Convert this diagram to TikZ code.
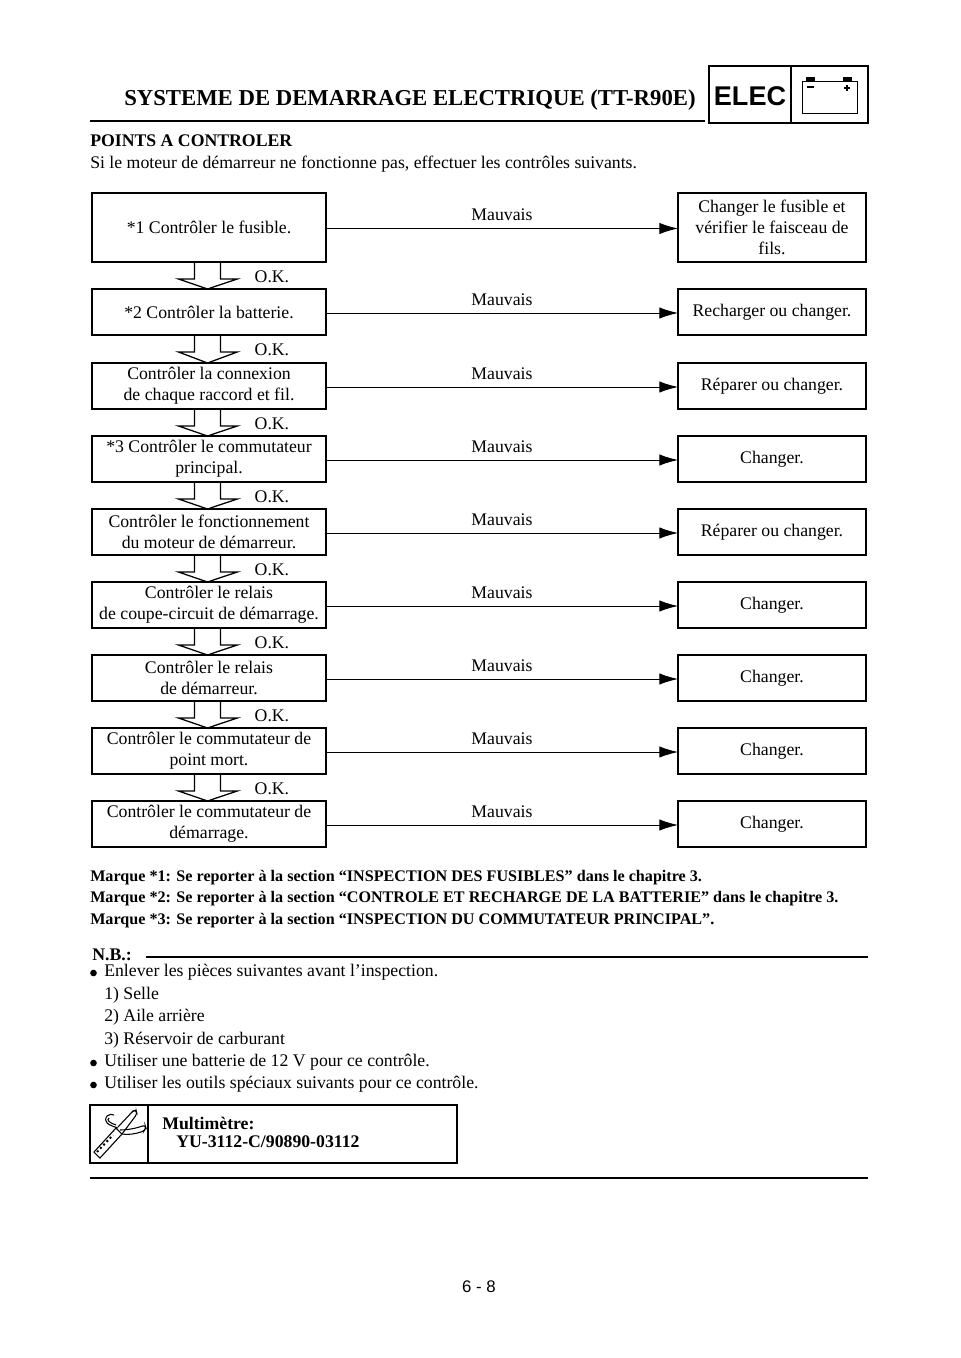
\documentclass[tikz,border=0pt]{standalone}
\usepackage{fontspec}
\setmainfont{Liberation Serif}
\newfontfamily\arialfont{Liberation Sans}
\usetikzlibrary{positioning,arrows.meta}
\tikzset{
    stepbox/.style={draw, line width=1.3pt, outer sep=0pt, inner sep=0pt, align=center, font=\fontsize{13.3}{15.75}\selectfont},
    checkbox/.style={stepbox, minimum width=175.5pt, minimum height=34.5pt},
    fixbox/.style={stepbox, minimum width=141pt, minimum height=34.5pt},
    badarrow/.style={line width=0.7pt, -{Latex[length=14pt,width=8.5pt]}},
    badlabel/.style={midway, above=5.5pt, inner sep=0pt, font=\fontsize{13.3}{15.75}\selectfont},
    okshape/.style={line width=0.95pt, line join=miter},
    oklabel/.style={inner sep=0pt, font=\fontsize{13.3}{15.75}\selectfont},
    bodytext/.style={anchor=west, inner sep=0pt, font=\fontsize{13.3}{15.75}\selectfont},
    boldtext/.style={bodytext, font=\fontsize{13.3}{15.75}\selectfont\bfseries},
    notetext/.style={bodytext, font=\fontsize{12.1}{14}\selectfont\bfseries},
    heavyline/.style={line width=1.9pt},
    dotmark/.style={circle, fill, inner sep=0pt, minimum size=5pt}
}
% hollow arrow between two check boxes, with its O.K.
\newcommand{\okarrow}[2]{
    \draw[okshape] ([xshift=-10.85pt]#1.south) -- ([xshift=-10.85pt,yshift=-12.75pt]#1.south)
        -- ([xshift=-22.9pt,yshift=-12.75pt]#1.south) -- ([xshift=-1.1pt]#2.north)
        -- ([xshift=21.2pt,yshift=-12.75pt]#1.south) -- ([xshift=8.65pt,yshift=-12.75pt]#1.south)
        -- ([xshift=8.65pt]#1.south);
    \node[oklabel] (#1ok) at ([xshift=47.2pt,yshift=-10.9pt]#1.south) {O.K.};
}
\begin{document}
\begin{tikzpicture}[x=0.75pt, y=-0.75pt, node distance=20.25pt]
    \useasboundingbox (0,0) rectangle (960,1358);
    % header
    \node[anchor=west, inner sep=0pt, font=\fontsize{17.05}{18}\selectfont\bfseries] (title) at (124,100) {SYSTEME DE DEMARRAGE ELECTRIQUE (TT-R90E)};
    \draw[heavyline] (90,121) -- (705,121);
    \draw[heavyline] (709,66) rectangle (868,123);
    \draw[heavyline] (791,66) -- (791,123);
    \node[inner sep=0pt, font=\arialfont\fontsize{20.3}{24}\selectfont\bfseries] (elec) at (750,96) {ELEC};
    \draw[line width=0.7pt] (802,81) rectangle (857,113);
    \fill (806,77) rectangle (815,81);
    \fill (843,77) rectangle (852,81);
    \draw[line width=0.9pt] (807,87) -- (814,87);
    \draw[line width=0.9pt] (844,88) -- (850,88) (847,85) -- (847,91);

    \node[boldtext] (points) at (90,141) {POINTS A CONTROLER};
    \node[bodytext] (intro) at (90,164) {Si le moteur de démarreur ne fonctionne pas, effectuer les contrôles suivants.};

    % left column
    \node[checkbox, minimum height=51.75pt] (c1) at (209,227.5) {*1 Contrôler le fusible.};
    \node[checkbox, below=of c1] (c2) {*2 Contrôler la batterie.};
    \node[checkbox, below=21pt of c2] (c3) {Contrôler la connexion\\de chaque raccord et fil.};
    \node[checkbox, below=of c3] (c4) {*3 Contrôler le commutateur\\principal.};
    \node[checkbox, below=of c4] (c5) {Contrôler le fonctionnement\\du moteur de démarreur.};
    \node[checkbox, below=of c5] (c6) {Contrôler le relais\\de coupe-circuit de démarrage.};
    \node[checkbox, below=of c6] (c7) {Contrôler le relais\\de démarreur.};
    \node[checkbox, below=of c7] (c8) {Contrôler le commutateur de\\point mort.};
    \node[checkbox, below=of c8] (c9) {Contrôler le commutateur de\\démarrage.};

    % right column
    \node[fixbox, minimum height=51.75pt, right=264pt of c1] (f1) {Changer le fusible et\\vérifier le faisceau de\\fils.};
    \node[fixbox, right=264pt of c2] (f2) {Recharger ou changer.};
    \node[fixbox, right=264pt of c3] (f3) {Réparer ou changer.};
    \node[fixbox, right=264pt of c4] (f4) {Changer.};
    \node[fixbox, right=264pt of c5] (f5) {Réparer ou changer.};
    \node[fixbox, right=264pt of c6] (f6) {Changer.};
    \node[fixbox, right=264pt of c7] (f7) {Changer.};
    \node[fixbox, right=264pt of c8] (f8) {Changer.};
    \node[fixbox, right=264pt of c9] (f9) {Changer.};

    \foreach \i in {1,...,9} {
        \draw[badarrow] ([yshift=-0.75pt]c\i.east) -- node[badlabel] {Mauvais} ([yshift=-0.75pt]f\i.west);
    }
    \okarrow{c1}{c2}
    \okarrow{c2}{c3}
    \okarrow{c3}{c4}
    \okarrow{c4}{c5}
    \okarrow{c5}{c6}
    \okarrow{c6}{c7}
    \okarrow{c7}{c8}
    \okarrow{c8}{c9}

    % remarks
    \node[notetext] (mark1) at (90,878) {Marque *1: Se reporter à la section “INSPECTION DES FUSIBLES” dans le chapitre 3.};
    \node[notetext] (mark2) at (90,899) {Marque *2: Se reporter à la section “CONTROLE ET RECHARGE DE LA BATTERIE” dans le chapitre 3.};
    \node[notetext] (mark3) at (90,921) {Marque *3: Se reporter à la section “INSPECTION DU COMMUTATEUR PRINCIPAL”.};

    \node[boldtext] (nb) at (92,955) {N.B.:};
    \draw[heavyline] (146,957) -- (868,957);
    \node[dotmark] (dot1) at (93.5,973) {};
    \node[bodytext] (nb1) at (104,972) {Enlever les pièces suivantes avant l’inspection.};
    \node[bodytext] (nb2) at (104,995) {1) Selle};
    \node[bodytext] (nb3) at (104,1017) {2) Aile arrière};
    \node[bodytext] (nb4) at (104,1040) {3) Réservoir de carburant};
    \node[dotmark] (dot2) at (93.5,1063) {};
    \node[bodytext] (nb5) at (104,1062) {Utiliser une batterie de 12 V pour ce contrôle.};
    \node[dotmark] (dot3) at (93.5,1085) {};
    \node[bodytext] (nb6) at (104,1084) {Utiliser les outils spéciaux suivants pour ce contrôle.};

    % tool
    \draw[heavyline] (90,1105) rectangle (457,1163);
    \draw[heavyline] (148,1105) -- (148,1163);
    \node[boldtext] (meter) at (162,1123) {Multimètre:};
    \node[boldtext] (meterno) at (176,1142) {YU-3112-C/90890-03112};
    \draw[line width=0.8pt] (94,1152) -- (116,1128) -- (122,1134) -- (100,1158) -- cycle;
    \draw[line width=1.5pt, dotted] (97,1152) -- (113,1135);
    \draw[line width=0.8pt, rounded corners=2pt] (118,1127) -- (133,1111) -- (136,1110) -- (137,1114) -- (122,1134);
    \draw[line width=0.8pt] (118,1128) .. controls (108,1125) and (103,1122) .. (107,1116) .. controls (109,1114) and (112,1114) .. (114,1115);
    \draw[line width=0.8pt] (116,1125) .. controls (110,1123) and (106,1120) .. (109,1118);
    \draw[line width=0.8pt, rounded corners=2pt] (120,1130) .. controls (130,1130) and (140,1127) .. (145,1125) -- (146,1128) -- (144,1131) .. controls (135,1134) and (128,1135) .. (122,1134);

    \draw[heavyline] (90,1178) -- (868,1178);
    \node[inner sep=0pt, font=\arialfont\fontsize{12.6}{15}\selectfont] (page) at (479,1287) {6 - 8};
\end{tikzpicture}
\end{document}
